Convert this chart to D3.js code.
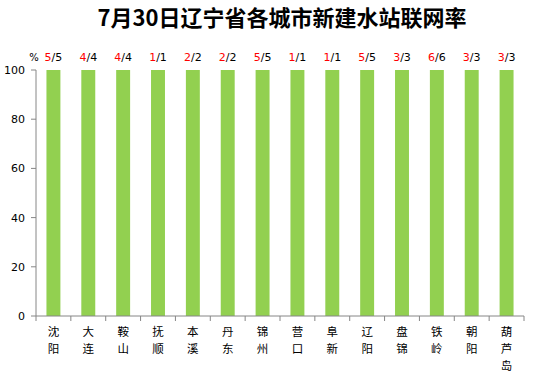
<!DOCTYPE html>
<html>
<head>
<meta charset="utf-8">
<script src="https://cdn.jsdelivr.net/npm/d3@7"></script>
<style>
  body { margin: 0; background: #fff; }
  text { font-family: "DejaVu Sans", "Noto Sans CJK SC", sans-serif; }
</style>
</head>
<body>
<script>
"use strict";

// data
var cities = ["沈阳", "大连", "鞍山", "抚顺", "本溪", "丹东", "锦州", "营口", "阜新", "辽阳", "盘锦", "铁岭", "朝阳", "葫芦岛"];
var rates = [100, 100, 100, 100, 100, 100, 100, 100, 100, 100, 100, 100, 100, 100];
var online = [5, 4, 4, 1, 2, 2, 5, 1, 1, 5, 3, 6, 3, 3];
var built = [5, 4, 4, 1, 2, 2, 5, 1, 1, 5, 3, 6, 3, 3];
var yTicks = [0, 20, 40, 60, 80, 100];

(function() {
var W = 554, H = 390;
var mLeft = 36, mRight = 524, mTop = 70, mBottom = 316;

var svg = d3.select("body").append("svg")
    .attr("width", W).attr("height", H);

var x = d3.scaleBand()
    .domain(cities)
    .range([mLeft, mRight])
    .paddingInner(0.6)
    .paddingOuter(0.3);

var xb = d3.scaleBand().domain(cities).range([mLeft, mRight]);

var y = d3.scaleLinear().domain([0, 100]).range([mBottom, mTop]);

// title
svg.append("text")
    .attr("x", 282).attr("y", 26)
    .attr("text-anchor", "middle")
    .style("font-family", "'Noto Sans CJK SC', sans-serif")
    .style("font-weight", "bold")
    .style("font-size", "22px")
    .text("7月30日辽宁省各城市新建水站联网率");

// bars
svg.selectAll("rect.bar")
    .data(rates)
    .enter()
    .append("rect")
    .attr("class", "bar")
    .attr("x", function(d, i) { return x(cities[i]); })
    .attr("y", function(d) { return y(d); })
    .attr("width", x.bandwidth())
    .attr("height", function(d) { return mBottom - y(d); })
    .attr("fill", "#92D050");

// y axis
var yAxis = svg.append("g");
yAxis.append("line")
    .attr("x1", mLeft).attr("x2", mLeft)
    .attr("y1", mTop).attr("y2", mBottom)
    .attr("stroke", "#868686");
yAxis.selectAll("line.tick")
    .data(yTicks).enter().append("line")
    .attr("class", "tick")
    .attr("x1", mLeft - 5).attr("x2", mLeft)
    .attr("y1", function(d) { return y(d); })
    .attr("y2", function(d) { return y(d); })
    .attr("stroke", "#868686");
yAxis.selectAll("text")
    .data(yTicks).enter().append("text")
    .attr("x", mLeft - 11)
    .attr("y", function(d) { return y(d) + 4; })
    .attr("text-anchor", "end")
    .style("font-size", "11px")
    .text(function(d) { return d; });

svg.append("text")
    .attr("x", 34).attr("y", 61)
    .attr("text-anchor", "middle")
    .style("font-size", "10px")
    .text("%");

// x axis
svg.append("line")
    .attr("x1", mLeft).attr("x2", mRight)
    .attr("y1", mBottom).attr("y2", mBottom)
    .attr("stroke", "#868686");
var bounds = cities.map(function(c) { return xb(c); }).concat([mRight]);
svg.selectAll("line.xtick")
    .data(bounds).enter().append("line")
    .attr("class", "xtick")
    .attr("x1", function(d) { return d; }).attr("x2", function(d) { return d; })
    .attr("y1", mBottom).attr("y2", mBottom + 5)
    .attr("stroke", "#868686");

// category labels, one character per line
var chars = [];
cities.forEach(function(c) {
    c.split("").forEach(function(ch, k) {
        chars.push({ city: c, ch: ch, k: k });
    });
});
svg.selectAll("text.cat")
    .data(chars).enter().append("text")
    .attr("class", "cat")
    .attr("text-anchor", "middle")
    .attr("x", function(d) { return x(d.city) + x.bandwidth() / 2; })
    .attr("y", function(d) { return 336 + d.k * 17; })
    .style("font-family", "'Noto Sans CJK SC', sans-serif")
    .style("font-size", "11.5px")
    .text(function(d) { return d.ch; });

// count labels
svg.selectAll("text.cnt")
    .data(cities).enter().append("text")
    .attr("class", "cnt")
    .attr("x", function(c) { return x(c) + x.bandwidth() / 2; })
    .attr("y", 61)
    .attr("text-anchor", "middle")
    .style("font-size", "11px")
    .each(function(c, i) {
        var t = d3.select(this);
        t.append("tspan").attr("fill", "#ff0000").text(online[i]);
        t.append("tspan").attr("fill", "#000").text("/" + built[i]);
    });
})();
</script>
</body>
</html>
